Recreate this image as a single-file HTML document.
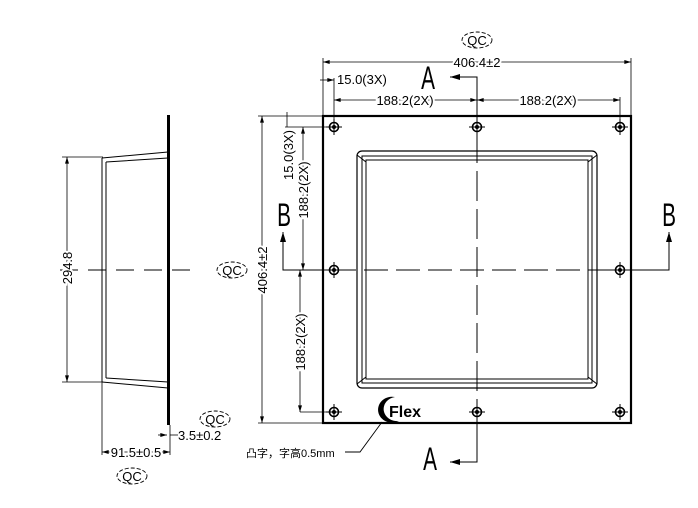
<!DOCTYPE html>
<html><head><meta charset="utf-8"><style>
html,body{margin:0;padding:0;background:#fff;width:698px;height:508px;overflow:hidden}
svg{display:block}
text{font-family:"Liberation Sans","Noto Sans CJK SC",sans-serif;fill:#000}
</style></head><body>
<svg width="698" height="508" viewBox="0 0 698 508" xmlns="http://www.w3.org/2000/svg" font-size="12">
<defs>
<marker id="ar" viewBox="0 0 10 6" refX="10" refY="3" markerWidth="7" markerHeight="4" orient="auto-start-reverse" markerUnits="userSpaceOnUse"><path d="M0,0L10,3L0,6z" fill="#000"/></marker>
<marker id="ab" viewBox="0 0 10 6" refX="10" refY="3" markerWidth="12" markerHeight="6" orient="auto" markerUnits="userSpaceOnUse"><path d="M0,0L10,3L0,6z" fill="#000"/></marker>
<g id="hole"><circle r="4.5" fill="none" stroke="#000" stroke-width="1.6"/><circle r="2" fill="#000"/><path d="M-8,0H8M0,-8V8" stroke="#000" stroke-width="1"/></g>
<g id="qc"><ellipse rx="15" ry="8" fill="none" stroke="#000" stroke-width="0.9" stroke-dasharray="4,2"/><text x="0" y="5" text-anchor="middle" font-size="13">QC</text></g>
</defs>
<g stroke="#000" fill="none">
<rect x="167" y="115" width="3" height="310" fill="#000" stroke="none"/>
<path d="M102,158L168,152M106,162L168,158M102,382L168,388M106,378L168,382" stroke-width="1"/>
<path d="M102,158V382M106,162V378" stroke-width="1"/>
<path d="M60,270H190" stroke-width="1" stroke-dasharray="18,10"/>
<path d="M62,157H103M62,382H103" stroke-width="0.8"/>
<path d="M67,157V382" stroke-width="0.8" marker-start="url(#ar)" marker-end="url(#ar)"/>
<path d="M102,382V455M170,425V455" stroke-width="0.8"/>
<path d="M102,452H170" stroke-width="0.8" marker-start="url(#ar)" marker-end="url(#ar)"/>
<path d="M158,435H167" stroke-width="0.8" marker-end="url(#ar)"/>
<path d="M170,435H178" stroke-width="0.8"/>
<rect x="323" y="116" width="308" height="307" stroke-width="2.2"/>
<rect x="357" y="151" width="240" height="237" rx="5" stroke-width="1.2"/>
<rect x="362" y="156" width="230" height="227" stroke-width="1"/>
<rect x="366" y="160" width="222" height="219" stroke-width="1"/>
<path d="M357,155L366,162M597,155L588,162M357,384L366,377M597,384L588,377" stroke-width="1"/>
<path d="M300,270H640" stroke-width="1" stroke-dasharray="24,8"/>
<path d="M477,95V462" stroke-width="1" stroke-dasharray="30,8"/>
<path d="M477,130V77H450" stroke-width="1" marker-end="url(#ab)"/>
<path d="M477,423V462H450" stroke-width="1" marker-end="url(#ab)"/>
<path d="M330,270H283V232" stroke-width="1" marker-end="url(#ab)"/>
<path d="M640,270H669V232" stroke-width="1" marker-end="url(#ab)"/>
<path d="M323,116V58M631,116V58" stroke-width="0.8"/>
<path d="M323,62H631" stroke-width="0.8" marker-start="url(#ar)" marker-end="url(#ar)"/>
<path d="M334,127V78M620,127V97" stroke-width="0.8"/>
<path d="M320,80H334" stroke-width="0.8" marker-end="url(#ar)"/>
<path d="M334,100H477" stroke-width="0.8" marker-start="url(#ar)" marker-end="url(#ar)"/>
<path d="M477,100H620" stroke-width="0.8" marker-start="url(#ar)" marker-end="url(#ar)"/>
<path d="M258,116H323M258,423H323M285,127H330M300,412H330" stroke-width="0.8"/>
<path d="M262,116V423" stroke-width="0.8" marker-start="url(#ar)" marker-end="url(#ar)"/>
<path d="M287,112V127" stroke-width="0.8"/>
<path d="M303,127V270" stroke-width="0.8" marker-start="url(#ar)" marker-end="url(#ar)"/>
<path d="M300,270V412" stroke-width="0.8" marker-start="url(#ar)" marker-end="url(#ar)"/>
<path d="M382,422L360,452H345" stroke-width="0.9"/>
</g>
<use href="#hole" x="334" y="127"/><use href="#hole" x="477" y="127"/><use href="#hole" x="620" y="127"/>
<use href="#hole" x="334" y="270"/><use href="#hole" x="620" y="270"/>
<use href="#hole" x="334" y="412"/><use href="#hole" x="477" y="412"/><use href="#hole" x="620" y="412"/>
<use href="#qc" x="477" y="40"/><use href="#qc" x="232" y="270"/><use href="#qc" x="215" y="419"/><use href="#qc" x="132" y="476"/>
<text x="477" y="67" font-size="13" text-anchor="middle" style="paint-order:stroke" stroke="#fff" stroke-width="4">406.4±2</text>
<text x="337" y="84" font-size="13">15.0(3X)</text>
<text x="405" y="105" font-size="13" text-anchor="middle" style="paint-order:stroke" stroke="#fff" stroke-width="4">188.2(2X)</text>
<text x="548" y="105" font-size="13" text-anchor="middle" style="paint-order:stroke" stroke="#fff" stroke-width="4">188.2(2X)</text>
<text transform="translate(267,270) rotate(-90)" font-size="13" text-anchor="middle" style="paint-order:stroke" stroke="#fff" stroke-width="4">406.4±2</text>
<text transform="translate(293,155) rotate(-90)" font-size="13" text-anchor="middle">15.0(3X)</text>
<text transform="translate(308,190) rotate(-90)" font-size="13" text-anchor="middle" style="paint-order:stroke" stroke="#fff" stroke-width="4">188.2(2X)</text>
<text transform="translate(305,342) rotate(-90)" font-size="13" text-anchor="middle" style="paint-order:stroke" stroke="#fff" stroke-width="4">188.2(2X)</text>
<text transform="translate(72,268) rotate(-90)" font-size="13" text-anchor="middle" style="paint-order:stroke" stroke="#fff" stroke-width="4">294.8</text>
<text x="136" y="457" font-size="13" text-anchor="middle" style="paint-order:stroke" stroke="#fff" stroke-width="4">91.5±0.5</text>
<text x="178" y="440" font-size="13">3.5±0.2</text>
<text transform="translate(428,89) scale(0.65,1)" font-size="32" text-anchor="middle">A</text>
<text transform="translate(430,470) scale(0.65,1)" font-size="32" text-anchor="middle">A</text>
<text transform="translate(284,226) scale(0.65,1)" font-size="32" text-anchor="middle">B</text>
<text transform="translate(669,226) scale(0.65,1)" font-size="32" text-anchor="middle">B</text>
<text x="246" y="457" font-size="11">凸字，字高0.5mm</text>
<path d="M395,397a14,13 0 1,0 4,24a11,10 0 1,1 -4,-24z" fill="#000"/>
<text x="389" y="417" font-size="16" font-weight="bold">Flex</text>
</svg>
</body></html>
